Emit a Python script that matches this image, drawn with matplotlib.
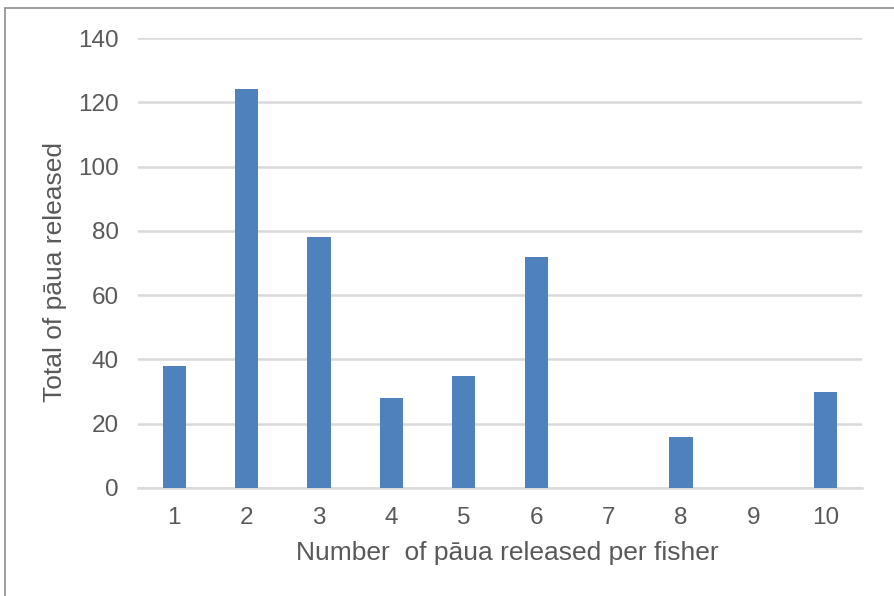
import matplotlib
matplotlib.use("Agg")
import matplotlib.pyplot as plt
from matplotlib.patches import Rectangle

# Released pāua per fisher
categories = [1, 2, 3, 4, 5, 6, 7, 8, 9, 10]
totals = [38, 124, 78, 28, 35, 72, 0, 16, 0, 30]
y_ticks = [0, 20, 40, 60, 80, 100, 120, 140]

plt.rcParams['font.family'] = ['Liberation Sans', 'DejaVu Sans']
text_color = '#595959'
bar_color = '#4F81BD'
grid_color = '#D9D9D9'

W, H = 894, 596
fig = plt.figure(figsize=(W / 100, H / 100), dpi=100)
ax = fig.add_axes([138 / W, 1 - 488 / H, (862 - 138) / W, (488 - 38) / H])

ax.bar(categories, totals, width=0.32, color=bar_color, zorder=3)

ax.set_xlim(0.5, 10.5)
ax.set_ylim(0, 140)
ax.set_yticks(y_ticks)
ax.set_xticks(categories)
ax.set_xticklabels([str(c) for c in categories])

ax.yaxis.grid(True, color=grid_color, linewidth=1.8, zorder=0)
ax.set_axisbelow(True)
for side in ['top', 'right', 'left']:
    ax.spines[side].set_visible(False)
ax.spines['bottom'].set_color(grid_color)
ax.spines['bottom'].set_linewidth(1.8)

ax.tick_params(axis='both', length=0, labelsize=17.5, colors=text_color)
ax.tick_params(axis='y', pad=14)
ax.tick_params(axis='x', pad=14)

# Axis titles placed in figure pixels
fig.text(507 / W, 1 - 553 / H, 'Number  of pāua released per fisher',
         fontsize=19, color=text_color, ha='center', va='center')
fig.text(55 / W, 1 - 272 / H, 'Total of pāua released', fontsize=19,
         color=text_color, ha='center', va='center', rotation=90)

# Outer chart frame
frame = Rectangle((5 / W, -0.1), 1.2, 1 - 8 / H + 0.1,
                  transform=fig.transFigure, fill=False,
                  edgecolor='#8C8C8C', linewidth=1.2)
fig.add_artist(frame)

fig.savefig('out.png', dpi=100)
